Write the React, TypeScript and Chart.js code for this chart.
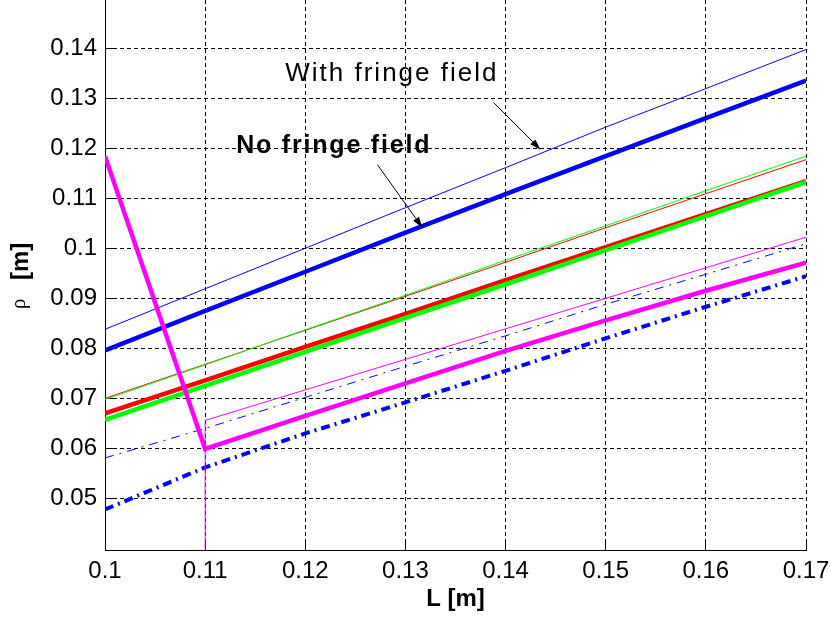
import React, { useEffect, useRef } from 'react';
import { Chart, registerables } from 'chart.js';

Chart.register(...registerables);

// ---- data ----
const L = [0.10, 0.11, 0.12, 0.13, 0.14, 0.15, 0.16, 0.17];
const L_MAG_THIN = [0.11, 0.11, 0.12, 0.13, 0.14, 0.15, 0.16, 0.17];

const blueThin = [0.0838, 0.0919, 0.1000, 0.1081, 0.1161, 0.1242, 0.1319, 0.1397];
const blueThick = [0.0796, 0.0875, 0.0953, 0.1031, 0.1108, 0.1184, 0.1260, 0.1335];
const redThin = [0.0700, 0.0768, 0.0836, 0.0904, 0.0972, 0.1041, 0.1109, 0.1177];
const greenThin = [0.0698, 0.0767, 0.0837, 0.0906, 0.0976, 0.1045, 0.1115, 0.1184];
const redThick = [0.0670, 0.0736, 0.0803, 0.0869, 0.0936, 0.1002, 0.1068, 0.1134];
const greenThick = [0.0657, 0.0725, 0.0793, 0.0861, 0.0928, 0.0996, 0.1064, 0.1132];
const magentaThin = [0.0350, 0.0656, 0.0717, 0.0778, 0.0839, 0.0900, 0.0961, 0.1022];
const magentaThick = [0.1184, 0.0599, 0.0665, 0.0730, 0.0795, 0.0856, 0.0915, 0.0971];
const blueDashThin = [0.0581, 0.0640, 0.0702, 0.0764, 0.0825, 0.0888, 0.0948, 0.1009];
const blueDashThick = [0.0478, 0.0562, 0.0630, 0.0692, 0.0755, 0.0820, 0.0883, 0.0944];

const xTicks = [0.10, 0.11, 0.12, 0.13, 0.14, 0.15, 0.16, 0.17];
const xTickLabels = ['0.1', '0.11', '0.12', '0.13', '0.14', '0.15', '0.16', '0.17'];
const yTicks = [0.05, 0.06, 0.07, 0.08, 0.09, 0.10, 0.11, 0.12, 0.13, 0.14];
const yTickLabels = ['0.05', '0.06', '0.07', '0.08', '0.09', '0.1', '0.11', '0.12', '0.13', '0.14'];

const X_MIN = 0.1;
const X_MAX = 0.17;
const Y_MIN = 0.0397;
const Y_MAX = 0.1496;

const X_TITLE = 'L [m]';
const Y_TITLE_SYMBOL = 'ρ';
const Y_TITLE_UNIT = '[m]';
const WITH_TEXT = 'With fringe field';
const NO_TEXT = 'No fringe field';

// annotation anchors in data coordinates
const WITH_POS = { x: 0.1180, y: 0.1349 };
const NO_POS = { x: 0.1131, y: 0.1204 };
const WITH_ARROW = { x1: 0.1388, y1: 0.1291, x2: 0.1435, y2: 0.1197 };
const NO_ARROW = { x1: 0.1272, y1: 0.1167, x2: 0.1317, y2: 0.1041 };

const FONT = '"Liberation Sans", Arial, Helvetica, sans-serif';

const pts = (xs: number[], ys: number[]) => xs.map((x, i) => ({ x, y: ys[i] }));

const align = (p: number) => Math.round(p - 0.5) + 0.5;

const decorPlugin = {
  id: 'decor',
  beforeDatasetsDraw(chart: any) {
    const { ctx, chartArea, scales } = chart;
    ctx.save();
    ctx.strokeStyle = '#000';
    ctx.lineWidth = 1;
    ctx.setLineDash([]);
    ctx.beginPath();
    xTicks.forEach((v) => {
      const px = align(scales.x.getPixelForValue(v));
      ctx.moveTo(px, chartArea.bottom);
      ctx.lineTo(px, chartArea.bottom - 8);
    });
    yTicks.forEach((v) => {
      const py = align(scales.y.getPixelForValue(v));
      ctx.moveTo(chartArea.left, py);
      ctx.lineTo(chartArea.left + 8, py);
    });
    ctx.stroke();
    ctx.restore();
  },
  afterDatasetsDraw(chart: any) {
    const { ctx, scales } = chart;
    const X = (v: number) => scales.x.getPixelForValue(v);
    const Y = (v: number) => scales.y.getPixelForValue(v);
    ctx.save();
    ctx.fillStyle = '#000';
    ctx.textAlign = 'left';
    ctx.textBaseline = 'middle';
    (ctx as any).letterSpacing = '2px';
    ctx.font = `normal 26px ${FONT}`;
    ctx.fillText(WITH_TEXT, X(WITH_POS.x), Y(WITH_POS.y));
    (ctx as any).letterSpacing = '1.8px';
    ctx.font = `bold 25px ${FONT}`;
    ctx.fillText(NO_TEXT, X(NO_POS.x), Y(NO_POS.y));
    (ctx as any).letterSpacing = '0px';

    const arrow = (a: { x1: number; y1: number; x2: number; y2: number }) => {
      const x1 = X(a.x1), y1 = Y(a.y1), x2 = X(a.x2), y2 = Y(a.y2);
      const ang = Math.atan2(y2 - y1, x2 - x1);
      const hl = 11, hw = 3.5;
      const bx = x2 - hl * Math.cos(ang), by = y2 - hl * Math.sin(ang);
      ctx.strokeStyle = '#000';
      ctx.lineWidth = 1;
      ctx.beginPath();
      ctx.moveTo(x1, y1);
      ctx.lineTo(bx, by);
      ctx.stroke();
      ctx.beginPath();
      ctx.moveTo(x2, y2);
      ctx.lineTo(bx + hw * Math.sin(ang), by - hw * Math.cos(ang));
      ctx.lineTo(bx - hw * Math.sin(ang), by + hw * Math.cos(ang));
      ctx.closePath();
      ctx.fill();
    };
    arrow(WITH_ARROW);
    arrow(NO_ARROW);
    ctx.restore();
  },
  afterDraw(chart: any) {
    const { ctx, chartArea } = chart;
    const cy = (chartArea.top + chartArea.bottom) / 2;
    ctx.save();
    ctx.translate(28, cy + 34);
    ctx.rotate(-Math.PI / 2);
    ctx.fillStyle = '#000';
    ctx.textAlign = 'left';
    ctx.textBaseline = 'alphabetic';
    ctx.font = `normal 21px "Liberation Serif", "DejaVu Serif", serif`;
    ctx.fillText(Y_TITLE_SYMBOL, 0, -3);
    ctx.font = `bold 24px ${FONT}`;
    ctx.fillText(Y_TITLE_UNIT, 29, 0);
    ctx.restore();
  },
};

export default function App() {
  const ref = useRef<HTMLCanvasElement | null>(null);

  useEffect(() => {
    if (!ref.current) return;
    const thin = 1;
    const thick = 4.5;
    const ds = (label: string, xs: number[], ys: number[], color: string, width: number, dash: number[] = []) => ({
      label,
      data: pts(xs, ys),
      borderColor: color,
      backgroundColor: color,
      borderWidth: width,
      borderDash: dash,
      pointRadius: 0,
      tension: 0,
      fill: false,
    });
    // first dataset is drawn on top
    const datasets = [
      ds('magenta thick', L, magentaThick, '#ff00ff', thick),
      ds('magenta thin', L_MAG_THIN, magentaThin, '#ff00ff', thin),
      ds('green thick', L, greenThick, '#00ff00', thick),
      ds('red thick', L, redThick, '#ff0000', thick),
      ds('green thin', L, greenThin, '#00ff00', thin),
      ds('red thin', L, redThin, '#ff0000', thin),
      ds('blue thick', L, blueThick, '#0000ff', thick),
      ds('blue thin', L, blueThin, '#0000ff', thin),
      ds('blue dash-dot thick', L, blueDashThick, '#0000ff', 4, [9, 5, 2, 5]),
      ds('blue dash-dot thin', L, blueDashThin, '#0000ff', thin, [9, 6, 2, 6]),
    ];

    const chart = new Chart(ref.current, {
      type: 'line',
      data: { datasets },
      plugins: [decorPlugin],
      options: {
        responsive: false,
        animation: false,
        layout: { padding: { top: 0, right: 25, bottom: 0, left: 0 } },
        plugins: { legend: { display: false }, tooltip: { enabled: false } },
        scales: {
          x: {
            type: 'linear',
            min: X_MIN,
            max: X_MAX,
            afterBuildTicks: (s: any) => {
              s.ticks = xTicks.map((v) => ({ value: v }));
            },
            afterFit: (s: any) => {
              s.height = 78;
              s.paddingLeft = 0;
              s.paddingRight = 0;
            },
            ticks: {
              autoSkip: false,
              maxRotation: 0,
              padding: 7,
              color: '#000',
              font: { family: FONT, size: 24 },
              callback: (_v: any, i: number) => xTickLabels[i],
            },
            grid: { color: '#000', lineWidth: 1, drawTicks: false },
            border: { display: true, color: '#000', width: 1, dash: [4, 3] },
            title: {
              display: true,
              text: X_TITLE,
              color: '#000',
              font: { family: FONT, size: 24, weight: 'bold' },
              padding: { top: 0, bottom: 14 },
            },
          },
          y: {
            type: 'linear',
            min: Y_MIN,
            max: Y_MAX,
            afterBuildTicks: (s: any) => {
              s.ticks = yTicks.map((v) => ({ value: v }));
            },
            afterFit: (s: any) => {
              s.width = 105;
              s.paddingTop = 0;
              s.paddingBottom = 0;
            },
            ticks: {
              autoSkip: false,
              padding: 8,
              color: '#000',
              font: { family: FONT, size: 24 },
              callback: (_v: any, i: number) => yTickLabels[i],
            },
            grid: { color: '#000', lineWidth: 1, drawTicks: false },
            border: { display: true, color: '#000', width: 1, dash: [4, 3] },
          },
        },
      } as any,
    });
    return () => chart.destroy();
  }, []);

  return (
    <div style={{ position: 'fixed', left: 0, top: 0, width: 831, height: 628, background: '#fff' }}>
      <canvas ref={ref} width={831} height={628} style={{ display: 'block', width: 831, height: 628 }} />
    </div>
  );
}
